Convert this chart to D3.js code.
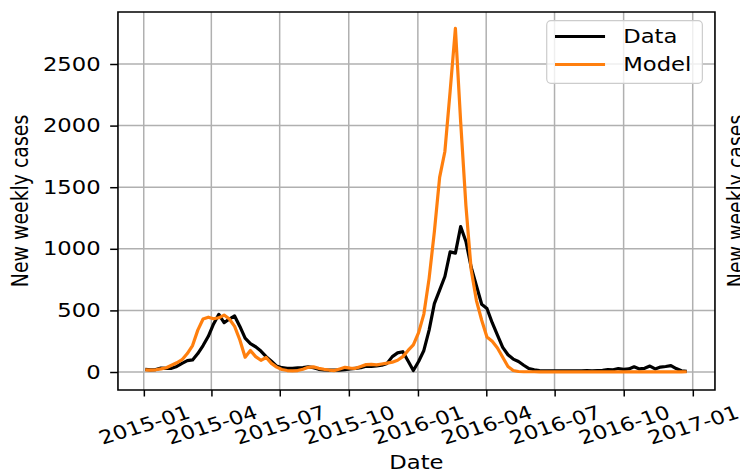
<!DOCTYPE html>
<html>
<head>
<meta charset="utf-8">
<script src="https://cdn.jsdelivr.net/npm/d3@7"></script>
<style>
  body { margin: 0; background: #fff; }
  svg { display: block; }
  svg * { vector-effect: non-scaling-stroke; }
  text { font-family: "DejaVu Sans", sans-serif; }
</style>
</head>
<body>
<div id="d3-container"></div>
<script>
/**
 * DATA (weekly)
 * */
const startDate = "2015-01-03";

const dataCases = [
  22, 18, 20, 32, 30, 30, 45, 70, 92, 98,
  150, 215, 290, 390, 468, 400, 430, 455, 370, 275,
  230, 205, 170, 125, 88, 48, 35, 30, 30, 33,
  36, 42, 35, 22, 18, 16, 15, 16, 20, 25,
  30, 35, 48, 45, 50, 55, 70, 125, 155, 165,
  90, 12, 85, 175, 340, 555, 665, 775, 975, 965,
  1180, 1060, 850, 700, 550, 515, 400, 300, 200, 140,
  105, 85, 55, 28, 18, 12, 10, 10, 10, 10,
  10, 10, 10, 10, 12, 10, 12, 14, 20, 18,
  28, 22, 25, 42, 25, 30, 48, 25, 40, 45,
  52, 28, 10, 5
];

const modelCases = [
  18, 15, 18, 25, 35, 55, 75, 100, 150, 215,
  340, 430, 445, 432, 440, 462, 430, 370, 260, 120,
  175, 125, 95, 118, 70, 40, 20, 12, 10, 12,
  22, 38, 42, 30, 22, 16, 12, 25, 38, 32,
  30, 45, 60, 62, 58, 65, 72, 80, 95, 125,
  175, 220, 320, 470, 760, 1140, 1580, 1790, 2280, 2790,
  2030, 1350, 830, 580, 420, 285, 250, 195, 120, 45,
  12, 4, 2, 2, 2, 1, 1, 1, 1, 1,
  1, 1, 1, 1, 1, 1, 1, 1, 1, 1,
  1, 1, 1, 1, 1, 1, 1, 1, 1, 1,
  1, 1, 1, 2
];

const yTicks = [0, 500, 1000, 1500, 2000, 2500];
const seriesNames = ["Data", "Model"];
const seriesColors = ["#000000", "#ff7f0e"];
const yLabel = "New weekly cases";
const xLabel = "Date";

/**
 * CONSTANTS
 * the picture is a matplotlib figure stretched sideways, so we draw
 * in a narrower box and let the viewBox stretch it
 * */
const width = 740,
  height = 473,
  stretch = 1.2,
  innerW = width / stretch,
  fontSize = 18.9,
  plot = { left: 98.3, right: 595.8, top: 12, bottom: 390 };

const weekDates = dataCases.map((d, i) => d3.utcDay.offset(new Date(startDate), 7 * i));

const svg = d3.select("#d3-container")
  .append("svg")
  .attr("width", width)
  .attr("height", height)
  .attr("viewBox", `0 0 ${innerW} ${height}`)
  .attr("preserveAspectRatio", "none");

// SCALES
const xScale = d3.scaleUtc()
  .domain([new Date("2014-11-27T16:00:00Z"), new Date("2017-01-30T15:00:00Z")])
  .range([plot.left, plot.right]);

const yScale = d3.scaleLinear()
  .domain([-146, 2922])
  .range([plot.bottom, plot.top]);

const xTicks = xScale.ticks(d3.utcMonth.every(3));

// GRID
svg.append("g")
  .selectAll("line.vgrid")
  .data(xTicks)
  .join("line")
  .attr("x1", d => xScale(d)).attr("x2", d => xScale(d))
  .attr("y1", plot.top).attr("y2", plot.bottom)
  .attr("stroke", "#b0b0b0").attr("stroke-width", 1.5);

svg.append("g")
  .selectAll("line.hgrid")
  .data(yTicks)
  .join("line")
  .attr("x1", plot.left).attr("x2", plot.right)
  .attr("y1", d => yScale(d)).attr("y2", d => yScale(d))
  .attr("stroke", "#b0b0b0").attr("stroke-width", 1.5);

// LINES
const series = [dataCases, modelCases];
const lineFunc = d3.line()
  .x((d, i) => xScale(weekDates[i]))
  .y(d => yScale(d));

svg.append("g")
  .selectAll("path.trend")
  .data(series)
  .join("path")
  .attr("class", "trend")
  .attr("fill", "none")
  .attr("stroke", (d, i) => seriesColors[i])
  .attr("stroke-width", 3.2)
  .attr("stroke-linejoin", "round")
  .attr("d", d => lineFunc(d));

// AXES
const xAxis = d3.axisBottom(xScale)
  .tickValues(xTicks)
  .tickFormat(d3.utcFormat("%Y-%m"))
  .tickSize(6.5);

svg.append("g")
  .attr("transform", `translate(0,${plot.bottom})`)
  .call(xAxis)
  .call(g => g.select(".domain").remove())
  .call(g => g.selectAll(".tick line").attr("stroke", "#000").attr("stroke-width", 1.5))
  .selectAll(".tick text")
  .attr("y", 0)
  .attr("dy", "0.35em")
  .attr("transform", "translate(0,35) rotate(-20)")
  .attr("text-anchor", "middle")
  .attr("fill", "#000")
  .style("font-size", fontSize + "px")
  .style("font-family", "DejaVu Sans");

const yAxis = d3.axisLeft(yScale)
  .tickValues(yTicks)
  .tickFormat(d3.format("d"))
  .tickSize(6.5)
  .tickPadding(8);

svg.append("g")
  .attr("transform", `translate(${plot.left},0)`)
  .call(yAxis)
  .call(g => g.select(".domain").remove())
  .call(g => g.selectAll(".tick line").attr("stroke", "#000").attr("stroke-width", 1.5))
  .selectAll(".tick text")
  .attr("fill", "#000")
  .style("font-size", fontSize + "px")
  .style("font-family", "DejaVu Sans");

// SPINES
svg.append("rect")
  .attr("x", plot.left).attr("y", plot.top)
  .attr("width", plot.right - plot.left)
  .attr("height", plot.bottom - plot.top)
  .attr("fill", "none")
  .attr("stroke", "#000")
  .attr("stroke-width", 1.6);

// AXIS LABELS
svg.append("text")
  .attr("x", (plot.left + plot.right) / 2)
  .attr("y", 469)
  .attr("text-anchor", "middle")
  .style("font-size", fontSize + "px")
  .text(xLabel);

svg.append("text")
  .attr("transform", `translate(23.3,${(plot.top + plot.bottom) / 2}) rotate(-90)`)
  .attr("text-anchor", "middle")
  .style("font-size", fontSize + "px")
  .text(yLabel);

// the next panel's label peeks in at the right edge
svg.append("text")
  .attr("transform", `translate(620,${(plot.top + plot.bottom) / 2}) rotate(-90)`)
  .attr("text-anchor", "middle")
  .style("font-size", fontSize + "px")
  .text(yLabel);

// LEGEND
const legend = svg.append("g").attr("class", "legend");

legend.append("rect")
  .attr("x", 455.6).attr("y", 20.7)
  .attr("width", 129.7).attr("height", 62.6)
  .attr("rx", 3.5).attr("ry", 4.2)
  .attr("fill", "#fff").attr("fill-opacity", 0.8)
  .attr("stroke", "#cccccc").attr("stroke-width", 1.2);

const items = legend.selectAll("g.item")
  .data(seriesNames)
  .join("g")
  .attr("class", "item")
  .attr("transform", (d, i) => `translate(0,${36.5 + i * 28})`);

items.append("line")
  .attr("x1", 462.5).attr("x2", 504.2)
  .attr("stroke", (d, i) => seriesColors[i])
  .attr("stroke-width", 3.2);

items.append("text")
  .attr("x", 519.4)
  .attr("dy", "0.36em")
  .style("font-size", fontSize + "px")
  .text(d => d);
</script>
</body>
</html>
